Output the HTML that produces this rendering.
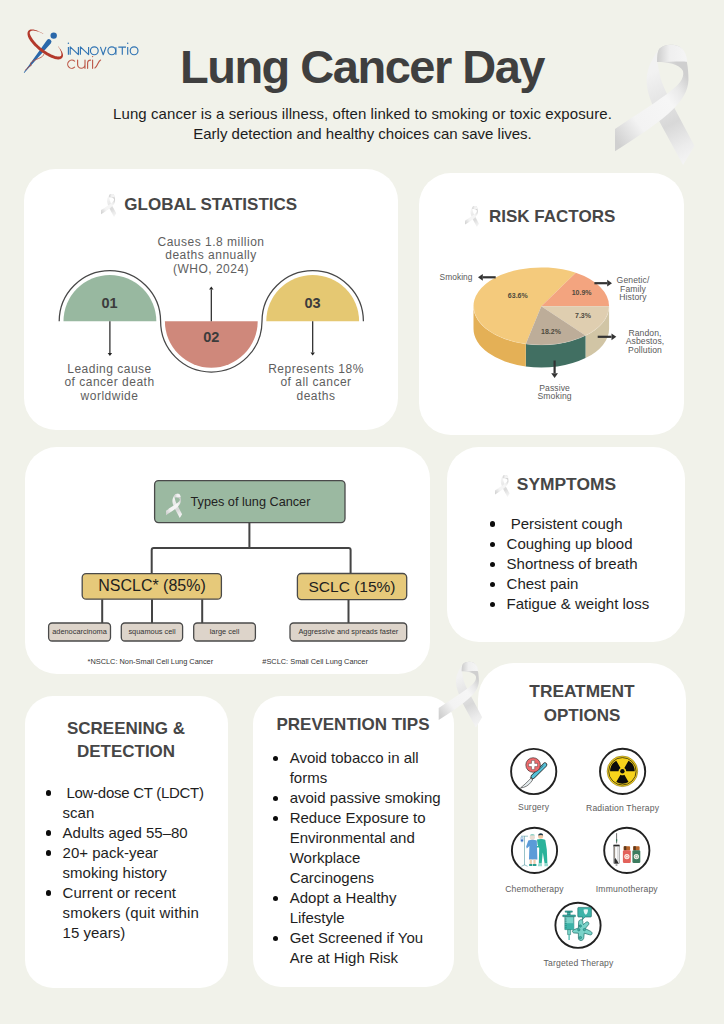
<!DOCTYPE html>
<html><head><meta charset="utf-8"><title>Lung Cancer Day</title>
<style>
html,body{margin:0;padding:0;}
body{width:724px;height:1024px;overflow:hidden;background:#f1f2ea;position:relative;font-family:"Liberation Sans",sans-serif;}
.t{position:absolute;white-space:nowrap;}
.card{position:absolute;background:#ffffff;}
svg{position:absolute;overflow:visible;}
</style></head><body>
<div class="card" style="left:24px;top:168.5px;width:374px;height:261.5px;border-radius:32px;"></div>
<div class="card" style="left:419px;top:173px;width:265px;height:262px;border-radius:32px;"></div>
<div class="card" style="left:25px;top:447px;width:405px;height:227px;border-radius:32px;"></div>
<div class="card" style="left:447px;top:447px;width:238px;height:195px;border-radius:32px;"></div>
<div class="card" style="left:25px;top:696px;width:202.5px;height:291.5px;border-radius:28px;"></div>
<div class="card" style="left:252.5px;top:696px;width:201.5px;height:291px;border-radius:28px;"></div>
<div class="card" style="left:478px;top:663px;width:207.5px;height:325px;border-radius:36px;"></div>
<svg width="724" height="1024" viewBox="0 0 724 1024" style="left:0;top:0">
<defs>
<linearGradient id="rgA" x1="0" y1="0" x2="1" y2="0">
 <stop offset="0" stop-color="#d2d2d2"/><stop offset="0.35" stop-color="#f4f4f4"/><stop offset="1" stop-color="#f7f7f7"/></linearGradient>
<linearGradient id="rgB" gradientUnits="userSpaceOnUse" x1="100" y1="720" x2="600" y2="350">
 <stop offset="0" stop-color="#d0d0d0"/><stop offset="0.3" stop-color="#f3f3f3"/><stop offset="0.7" stop-color="#f6f6f6"/><stop offset="0.85" stop-color="#e9e9e9"/><stop offset="1" stop-color="#cfcfcf"/></linearGradient>
<linearGradient id="rgC" gradientUnits="userSpaceOnUse" x1="300" y1="300" x2="600" y2="880">
 <stop offset="0" stop-color="#f2f2f2"/><stop offset="0.35" stop-color="#e2e2e2"/><stop offset="0.55" stop-color="#d8d8d8"/><stop offset="0.8" stop-color="#ececec"/><stop offset="1" stop-color="#f6f6f6"/></linearGradient>
<linearGradient id="rgD" gradientUnits="userSpaceOnUse" x1="380" y1="150" x2="570" y2="150">
 <stop offset="0" stop-color="#cfcfcf"/><stop offset="0.4" stop-color="#efefef"/><stop offset="1" stop-color="#f5f5f5"/></linearGradient>
<g id="ribbon">
 <path d="M378,140 C340,200 300,260 308,360 C315,430 350,500 385,590 L545,885 L620,760 L490,515 C450,440 405,360 392,290 C385,250 380,230 378,212 Z" fill="url(#rgC)"/>
 <path d="M100,650 L100,795 C250,700 400,600 480,520 C560,440 585,380 580,300 C578,220 560,140 520,110 C480,90 420,95 390,125 C378,140 375,170 375,212 C440,212 520,225 545,270 C555,320 520,360 440,420 C330,500 200,580 100,650 Z" fill="url(#rgB)"/>
 <path d="M390,125 C420,95 480,90 520,110 C555,130 570,170 572,210 C540,205 470,210 375,212 C375,175 378,145 390,125 Z" fill="url(#rgD)"/>
</g>
</defs>
<path d="M63.50000000000001,321.3 A46.4,46.4 0 0 1 156.3,321.3 Z" fill="#98b8a0"/><path d="M164.9,321.3 A46.4,46.4 0 0 0 257.7,321.3 Z" fill="#cf887b"/><path d="M266.3,321.3 A46.4,46.4 0 0 1 359.09999999999997,321.3 Z" fill="#e5c872"/><path d="M59.2,321.3 A50.7,50.7 0 0 1 160.60000000000002,321.3 A50.7,50.7 0 0 0 262.0,321.3 A50.7,50.7 0 0 1 363.4,321.3" fill="none" stroke="#474747" stroke-width="1.25"/>
<line x1="109.9" y1="321.3" x2="109.9" y2="353" stroke="#222" stroke-width="1.2"/><path d="M109.9,356 L107.7,353 L112.10000000000001,353 Z" fill="#222"/>
<line x1="211.3" y1="321.3" x2="211.3" y2="289.6" stroke="#222" stroke-width="1.2"/><path d="M211.3,286.6 L209.10000000000002,289.6 L213.5,289.6 Z" fill="#222"/>
<line x1="312.7" y1="321.3" x2="312.7" y2="352.5" stroke="#222" stroke-width="1.2"/><path d="M312.7,355.5 L310.5,352.5 L314.9,352.5 Z" fill="#222"/>
<path d="M609.10,306.20 A67.8,38.8 0 0 1 585.52,335.61 L585.52,358.11 A67.8,38.8 0 0 0 609.10,328.70 Z" fill="#d1c5a5"/>
<path d="M585.52,335.61 A67.8,38.8 0 0 1 525.79,343.97 L525.79,366.47 A67.8,38.8 0 0 0 585.52,358.11 Z" fill="#416f62"/>
<path d="M525.79,343.97 A67.8,38.8 0 0 1 473.50,306.20 L473.50,328.70 A67.8,38.8 0 0 0 525.79,366.47 Z" fill="#e4b056"/>
<path d="M541.3,306.2 L525.79,343.97 A67.8,38.8 0 1 1 575.80,272.80 Z" fill="#f4ca7c"/>
<path d="M541.3,306.2 L575.80,272.80 A67.8,38.8 0 0 1 609.10,306.20 Z" fill="#f3a47f"/>
<path d="M541.3,306.2 L609.10,306.20 A67.8,38.8 0 0 1 585.52,335.61 Z" fill="#dfceb0"/>
<path d="M541.3,306.2 L585.52,335.61 A67.8,38.8 0 0 1 525.79,343.97 Z" fill="#bdad99"/>
<path d="M609.10,306.20 A67.8,38.8 0 0 1 473.50,306.20" fill="none" stroke="#fff" stroke-opacity="0.25" stroke-width="0.6"/><line x1="495.7" y1="277.3" x2="482.8" y2="277.3" stroke="#333" stroke-width="2.2"/><path d="M478,277.3 L482.8,273.90000000000003 L482.8,280.7 Z" fill="#333"/>
<line x1="594.4" y1="283.2" x2="607.2" y2="283.2" stroke="#333" stroke-width="2.2"/><path d="M612,283.2 L607.2,279.8 L607.2,286.59999999999997 Z" fill="#333"/>
<line x1="597.7" y1="336.8" x2="611.5" y2="336.8" stroke="#333" stroke-width="2.2"/><path d="M616.3,336.8 L611.5,333.40000000000003 L611.5,340.2 Z" fill="#333"/>
<line x1="554.6" y1="360.5" x2="554.6" y2="373.2" stroke="#333" stroke-width="2.2"/><path d="M554.6,378 L551.2,373.2 L558.0,373.2 Z" fill="#333"/>
<rect x="154.6" y="480.6" width="190.4" height="42" rx="4" fill="#9bb9a1" stroke="#4a4a4a" stroke-width="1.3"/><path d="M249.4,522.6 V548 M151.7,573.6 V550 Q151.7,548 153.7,548 H348.6 Q350.6,548 350.6,550 V573.5" fill="none" stroke="#444" stroke-width="2"/><path d="M102.2,599.2 V623 M152,599.2 V623 M202.2,599.2 V623 M348.5,599.6 V623" fill="none" stroke="#444" stroke-width="2"/><rect x="82.2" y="573.6" width="139.2" height="25.6" rx="4" fill="#e6c97a" stroke="#4a4a4a" stroke-width="1.3"/><rect x="297.4" y="573.5" width="109.3" height="26.1" rx="4" fill="#e6c97a" stroke="#4a4a4a" stroke-width="1.3"/><rect x="48.6" y="623" width="61.9" height="18" rx="3.5" fill="#ddd4ca" stroke="#4a4a4a" stroke-width="1.3"/><rect x="121.3" y="623" width="61.3" height="18" rx="3.5" fill="#ddd4ca" stroke="#4a4a4a" stroke-width="1.3"/><rect x="193.7" y="623" width="61.7" height="18" rx="3.5" fill="#ddd4ca" stroke="#4a4a4a" stroke-width="1.3"/><rect x="290" y="623" width="116.7" height="18" rx="3.5" fill="#ddd4ca" stroke="#4a4a4a" stroke-width="1.3"/><circle cx="533.7" cy="771.5" r="22.6" fill="#fff" stroke="#222" stroke-width="1.9"/><circle cx="622.6" cy="771.4" r="22.6" fill="#fff" stroke="#222" stroke-width="1.9"/><circle cx="534.5" cy="850.4" r="22.6" fill="#fff" stroke="#222" stroke-width="1.9"/><circle cx="626.8" cy="850.4" r="22.6" fill="#fff" stroke="#222" stroke-width="1.9"/><circle cx="578" cy="925.3" r="22.6" fill="#fff" stroke="#222" stroke-width="1.9"/><g><path d="M531.6,777.2 L529.6,779.6 C526.5,782.8 523.5,785.5 520.6,787.9 C524.8,787.6 528.3,785.6 530.6,782.6 L532.6,780 Z" fill="#e4ecee" stroke="#2a2a2a" stroke-width="0.6" stroke-linejoin="round"/><path d="M530.4,777.6 L532.6,775.6 L534.4,777.6 L532.3,779.6 Z" fill="#f4f4f4" stroke="#2a2a2a" stroke-width="0.6"/><line x1="533.0" y1="776.6" x2="544.9" y2="764.8" stroke="#2a2a2a" stroke-width="4.6" stroke-linecap="round"/><line x1="533.0" y1="776.6" x2="544.9" y2="764.8" stroke="#56c1d8" stroke-width="3.3" stroke-linecap="round"/><path d="M538.8,769.9 L543.4,765.4" stroke="#2a2a2a" stroke-width="0.5"/><circle cx="533.1" cy="765.0" r="7.3" fill="#ee6a6c" stroke="#2a2a2a" stroke-width="0.6"/><path d="M531.5,760.6 h3.2 v2.8 h2.8 v3.2 h-2.8 v2.8 h-3.2 v-2.8 h-2.8 v-3.2 h2.8 Z" fill="#ffffff" stroke="#2a2a2a" stroke-width="0.4"/></g>
<circle cx="622.4" cy="771.3" r="15.3" fill="#f7d31b" stroke="#6b5a10" stroke-width="0.5"/><circle cx="622.4" cy="771.3" r="13.7" fill="none" stroke="#111" stroke-width="0.7"/><path d="M618.50,771.30 L610.10,771.30 A12.3,12.3 0 0 1 616.25,760.65 L620.45,767.92 A3.9,3.9 0 0 0 618.50,771.30 Z" fill="#0c0c0c"/><path d="M624.35,767.92 L628.55,760.65 A12.3,12.3 0 0 1 634.70,771.30 L626.30,771.30 A3.9,3.9 0 0 0 624.35,767.92 Z" fill="#0c0c0c"/><path d="M624.35,774.68 L628.55,781.95 A12.3,12.3 0 0 1 616.25,781.95 L620.45,774.68 A3.9,3.9 0 0 0 624.35,774.68 Z" fill="#0c0c0c"/><circle cx="622.4" cy="771.3" r="2.2" fill="#0c0c0c"/>
<g><path d="M524.5,836 V865.3 M521,836.2 H528 M521.5,866.3 L524.5,864.8 L527.6,866.3" stroke="#6fa9b0" stroke-width="0.7" fill="none"/><rect x="520.8" y="837" width="2.4" height="4.8" rx="0.8" fill="#cfe3f3" stroke="#5b8fc6" stroke-width="0.4"/><rect x="521" y="839.5" width="2" height="1.8" fill="#3f73c8"/><circle cx="532.3" cy="837.2" r="2.6" fill="#e9ddd3"/><path d="M529.8,835.6 C530.5,833.6 534.3,833.6 534.9,835.6 Z" fill="#8fd3c8"/><path d="M528.3,840.4 C530.5,839.4 534.6,839.4 536.8,840.4 L537.4,859.5 L529.0,859.5 L529.4,846 L526.8,848.5 L526.2,846.5 Z" fill="#5b9bd8"/><path d="M529.7,859.5 h2.2 v4.5 h-2.2 Z M533.4,859.5 h2.2 v4.5 h-2.2 Z" fill="#f0cdb0"/><path d="M529.2,864 h3.2 v2 h-3.2 Z M533,864 h3.4 v2 h-3.4 Z" fill="#2a9d8f"/><circle cx="540.6" cy="836.3" r="2.5" fill="#f0c7a3"/><path d="M538.2,835.6 C538.2,832.6 543.2,832.4 543.1,835.4 C542.2,834.7 539.6,834.7 538.2,835.6 Z" fill="#1e3b4a"/><path d="M537,839.4 C539.6,838.6 543.4,838.7 545.3,840 L546.8,849.6 L547.4,863.6 L544.6,863.6 L542.8,852.6 L541.7,863.6 L538.8,863.6 L539.2,848 L537.6,845 Z" fill="#2bb39b"/><path d="M536.9,846.8 C538.6,846.9 541.4,846.2 542.8,845.4" stroke="#2bb39b" stroke-width="1.6" fill="none"/><path d="M538.4,863.6 h3.6 v2.6 h-4.2 Z M544.4,863.6 h3.4 l0.4,2.6 h-3.8 Z" fill="#9adbd0"/></g>
<g><path d="M616.6,833.2 V843.4" stroke="#333" stroke-width="0.7"/><path d="M616.6,839.2 V841.6" stroke="#2d7a55" stroke-width="1.2"/><rect x="613.8" y="845" width="5.4" height="18.6" fill="#fbfbfb" stroke="#555" stroke-width="0.45"/><rect x="613.5" y="844.8" width="6" height="1.6" fill="#2a2a2a"/><path d="M617.9,846.5 V862" stroke="#bdbdbd" stroke-width="0.8"/><path d="M614.6,846.5 V858" stroke="#4a3a2a" stroke-width="0.6"/><path d="M614.3,858.2 L615.6,858.2 L618.4,862.8 L618.6,863.6 L614.3,863.6 Z" fill="#2b2b2b"/><path d="M615.6,864.2 h1.8 v1.6 h-1.8 Z" fill="#999"/><rect x="623.5" y="846.2" width="6.6" height="4.2" rx="0.8" fill="#b9652a"/><rect x="624.1" y="846.2" width="2.2" height="4.2" fill="#5a3a1e"/><rect x="622.9" y="850.2" width="7.9" height="12.8" rx="1.2" fill="#e3625b"/><circle cx="626.9" cy="856.6" r="2.6" fill="#fdf4ec"/><circle cx="626.9" cy="856.6" r="1.3" fill="none" stroke="#e3625b" stroke-width="0.5"/><rect x="633.0" y="846.2" width="6.6" height="4.2" rx="0.8" fill="#b9652a"/><rect x="633.6" y="846.2" width="2.2" height="4.2" fill="#5a3a1e"/><rect x="632.4" y="850.2" width="7.9" height="12.8" rx="1.2" fill="#3d7c5f"/><circle cx="636.4" cy="856.6" r="2.6" fill="#fdf4ec"/><circle cx="636.4" cy="856.6" r="1.3" fill="none" stroke="#3d7c5f" stroke-width="0.5"/></g>
<g><path d="M579.6,920.2 C581.6,918.8 583.2,920.4 582.8,922.6 L583.4,924.6 L585.8,922.4 C587.6,921 589.6,922.6 588.6,924.6 L585.2,928.6 L590.8,931.4 C593,932.6 592.2,935.4 589.8,934.8 L584.2,933.2 L583.8,937.6 C583.6,941.2 578.8,941.6 578.4,938.2 L578.4,933.2 L574.2,933 C571.8,932.6 572,930.2 574.2,929.6 L578.4,928 L578.6,923 C578.4,922 578.8,920.8 579.6,920.2 Z" fill="#7ad3c9" stroke="#176a64" stroke-width="0.7" stroke-linejoin="round"/><circle cx="580.3" cy="926" r="1.2" fill="#3db3a8" stroke="#176a64" stroke-width="0.5"/><circle cx="578.8" cy="929.8" r="1.2" fill="#3db3a8" stroke="#176a64" stroke-width="0.5"/><circle cx="584.4" cy="929.6" r="1.2" fill="#3db3a8" stroke="#176a64" stroke-width="0.5"/><circle cx="580.4" cy="937.6" r="1.2" fill="#3db3a8" stroke="#176a64" stroke-width="0.5"/><path d="M578.6,907.4 H590.6 Q591.4,907.4 591.4,908.2 V916.2 Q591.4,917 590.6,917 H585 L582.2,920 L582.6,917 H578.6 Q577.8,917 577.8,916.2 V908.2 Q577.8,907.4 578.6,907.4 Z" fill="#3db3a8" stroke="#176a64" stroke-width="0.6"/><path d="M583.6,909.6 Q585.8,908.8 588,909.6 Q588,913.6 585.8,914.8 Q583.6,913.6 583.6,909.6 Z" fill="#e6f6f4"/><path d="M565.2,910.9 H572.3 V912.2 H565.2 Z M567.4,912.2 H570.2 V915 H567.4 Z" fill="#3db3a8" stroke="#176a64" stroke-width="0.5"/><path d="M562.8,915 H575.4 V916.7 H562.8 Z" fill="#3db3a8" stroke="#176a64" stroke-width="0.5"/><path d="M564.9,916.7 H573.8 V929.6 H564.9 Z" fill="#7ad3c9" stroke="#176a64" stroke-width="0.6"/><path d="M564.9,923.2 H573.8 V929.6 H564.9 Z" fill="#3db3a8"/><path d="M564.9,919 h1.8 M564.9,921.2 h1.8 M564.9,923.4 h1.8 M564.9,925.6 h1.8 M564.9,927.8 h1.8" stroke="#176a64" stroke-width="0.5"/><path d="M567.6,929.6 H570.6 V934.6 H567.6 Z" fill="#7ad3c9" stroke="#176a64" stroke-width="0.5"/><path d="M569.1,934.6 V940" stroke="#3db3a8" stroke-width="1.2"/></g>
<path d="M47.05,40.04 L23.77,72.61 L24.23,72.99 L50.95,43.16 A2.5,2.5 0 0 0 47.05,40.04 Z" fill="#2a68aa"/><circle cx="53.7" cy="35.6" r="3.2" fill="#2a68aa"/><path d="M58.04,46.14 L58.76,47.05 L59.43,47.94 L60.08,48.78 L60.68,49.61 L61.21,50.41 L61.68,51.20 L62.08,51.97 L62.41,52.72 L62.67,53.45 L62.86,54.15 L62.97,54.85 L62.99,55.52 L62.91,56.19 L62.73,56.83 L62.42,57.44 L62.00,57.99 L61.47,58.46 L60.85,58.84 L60.16,59.14 L59.41,59.35 L58.61,59.41 L57.77,59.39 L56.90,59.31 L55.98,59.16 L55.04,58.95 L54.05,58.67 L53.04,58.34 L52.00,57.95 L50.93,57.50 L49.84,57.00 L48.73,56.45 L47.60,55.85 L46.47,55.20 L45.33,54.51 L44.18,53.78 L43.05,53.01 L41.91,52.21 L40.80,51.38 L39.69,50.51 L38.61,49.63 L37.56,48.72 L36.53,47.79 L35.54,46.86 L34.59,45.91 L33.68,44.96 L32.82,44.00 L32.01,43.05 L31.25,42.10 L30.55,41.16 L29.90,40.23 L29.32,39.31 L28.80,38.42 L28.40,37.51 L28.06,36.64 L27.80,35.79 L27.62,34.97 L27.51,34.18 L27.49,33.42 L27.56,32.70 L27.73,32.02 L27.99,31.40 L28.36,30.85 L28.81,30.38 L29.34,30.01 L29.93,29.74 L30.56,29.56 L31.23,29.46 L31.94,29.43 L32.69,29.47 L33.48,29.58 L34.31,29.75 L35.18,29.98 L36.08,30.27 L37.02,30.61 L37.99,31.02 L38.99,31.47 L40.01,31.98 L41.07,32.53 L42.15,33.09 L43.25,33.70 L43.13,33.92 L42.03,33.31 L40.96,32.75 L39.88,32.27 L38.83,31.85 L37.81,31.50 L36.82,31.20 L35.88,30.96 L34.99,30.78 L34.15,30.67 L33.37,30.61 L32.66,30.61 L32.01,30.67 L31.45,30.79 L30.97,30.95 L30.58,31.15 L30.28,31.38 L30.06,31.63 L29.90,31.90 L29.80,32.19 L29.74,32.52 L29.73,32.90 L29.77,33.34 L29.87,33.83 L30.03,34.37 L30.26,34.97 L30.55,35.62 L30.92,36.30 L31.35,37.03 L31.80,37.81 L32.32,38.62 L32.90,39.46 L33.54,40.32 L34.25,41.20 L35.00,42.09 L35.81,42.98 L36.67,43.88 L37.57,44.78 L38.50,45.66 L39.48,46.54 L40.48,47.41 L41.51,48.25 L42.56,49.07 L43.62,49.87 L44.70,50.63 L45.78,51.36 L46.86,52.05 L47.94,52.70 L49.00,53.31 L50.06,53.87 L51.09,54.38 L52.09,54.84 L53.07,55.25 L54.00,55.60 L54.90,55.90 L55.75,56.13 L56.54,56.31 L57.28,56.43 L57.94,56.50 L58.54,56.51 L59.05,56.47 L59.50,56.46 L59.88,56.42 L60.20,56.34 L60.47,56.24 L60.71,56.09 L60.93,55.90 L61.12,55.63 L61.27,55.27 L61.37,54.83 L61.42,54.31 L61.39,53.72 L61.30,53.05 L61.13,52.33 L60.88,51.56 L60.57,50.75 L60.18,49.90 L59.72,49.01 L59.19,48.10 L58.56,47.20 L57.85,46.29 Z" fill="#b3392b"/><path d="M43.8,54.2 C43,57.6 37.6,58.6 33.6,60.6 C30.2,62.4 29.6,64.6 31.4,65.2 C29,66.8 26.6,68.2 25.2,70.4" fill="none" stroke="#b94a3a" stroke-width="0.8"/><g fill="none" stroke="#3174b3" stroke-width="1.15" stroke-linejoin="round"><path d="M68.4,46.9 V54.7"/><path d="M70.2,54.7 V46.9 L78.4,54.7 V46.9"/><path d="M80.4,54.7 V46.9 L88.6,54.7 V46.9"/><ellipse cx="94.3" cy="50.8" rx="3.9" ry="3.95"/><path d="M100.4,46.9 L103.2,54.7 L106.0,46.9"/><ellipse cx="111.8" cy="50.8" rx="3.9" ry="3.95"/><path d="M115.9,47.3 V54.7"/><path d="M118.3,47.1 H126.0 M122.3,47.1 V54.7"/><path d="M127.7,46.9 V54.7"/><ellipse cx="134.1" cy="50.8" rx="3.9" ry="3.95"/></g><circle cx="68.4" cy="43.3" r="0.75" fill="#3174b3"/><circle cx="127.7" cy="43.3" r="0.75" fill="#3174b3"/><g fill="none" stroke="#bd5a4a" stroke-width="1.15" stroke-linecap="round"><path d="M74.6,61.2 A4.1,4.1 0 1 0 74.6,67.2"/><path d="M77.6,60.1 V64.6 A3.7,3.7 0 0 0 85.0,64.6 V60.1 M85.0,64.6 V68.3"/><path d="M87.6,68.3 V63.4 A3.2,3.2 0 0 1 90.6,60.1"/><path d="M92.6,60.1 V68.3"/><path d="M100.6,60.1 C99.6,60.6 98.6,62.2 97.8,63.8 C97.0,65.4 96.2,67.4 94.9,68.0"/></g><circle cx="92.6" cy="56.6" r="0.7" fill="#bd5a4a"/>
<use href="#ribbon" transform="translate(599.71,29.71) scale(0.15287)"/>
<use href="#ribbon" transform="translate(430.34,653.64) scale(0.08357)"/>
<use href="#ribbon" transform="translate(98.07,191.07) scale(0.02930)" opacity="0.9"/>
<use href="#ribbon" transform="translate(462.32,203.32) scale(0.02675)" opacity="0.9"/>
<use href="#ribbon" transform="translate(492.20,472.20) scale(0.02803)" opacity="0.9"/>
<use href="#ribbon" transform="translate(162.90,490.60) scale(0.03096)"/>
</svg>
<div class="t" style="left:62.00px;width:600px;text-align:center;top:42.71px;font-size:47px;line-height:47px;color:#3f3f3f;font-weight:bold;letter-spacing:-1.5px;">Lung Cancer Day</div>
<div class="t" style="left:62.50px;width:600px;text-align:center;top:106.00px;font-size:15px;line-height:15px;color:#1c1c1c;letter-spacing:0.08px;">Lung cancer is a serious illness, often linked to smoking or toxic exposure.</div>
<div class="t" style="left:62.50px;width:600px;text-align:center;top:126.10px;font-size:15px;line-height:15px;color:#1c1c1c;">Early detection and healthy choices can save lives.</div>
<div class="t" style="left:124.30px;top:196.41px;font-size:17px;line-height:17px;color:#464646;font-weight:bold;">GLOBAL STATISTICS</div>
<div class="t" style="left:489.00px;top:207.91px;font-size:17px;line-height:17px;color:#464646;font-weight:bold;">RISK FACTORS</div>
<div class="t" style="left:516.80px;top:475.67px;font-size:17.4px;line-height:17.4px;color:#464646;font-weight:bold;">SYMPTOMS</div>
<div class="t" style="left:-174.00px;width:600px;text-align:center;top:719.91px;font-size:17px;line-height:17px;color:#464646;font-weight:bold;">SCREENING &amp;</div>
<div class="t" style="left:-174.00px;width:600px;text-align:center;top:743.11px;font-size:17px;line-height:17px;color:#464646;font-weight:bold;">DETECTION</div>
<div class="t" style="left:53.00px;width:600px;text-align:center;top:716.11px;font-size:17px;line-height:17px;color:#464646;font-weight:bold;">PREVENTION TIPS</div>
<div class="t" style="left:282.00px;width:600px;text-align:center;top:682.96px;font-size:17.3px;line-height:17.3px;color:#464646;font-weight:bold;">TREATMENT</div>
<div class="t" style="left:282.00px;width:600px;text-align:center;top:707.31px;font-size:17px;line-height:17px;color:#464646;font-weight:bold;">OPTIONS</div>
<div class="t" style="left:-89.00px;width:600px;text-align:center;top:235.54px;font-size:12px;line-height:12px;color:#5e5e5e;letter-spacing:0.5px;">Causes 1.8 million</div>
<div class="t" style="left:-89.00px;width:600px;text-align:center;top:249.24px;font-size:12px;line-height:12px;color:#5e5e5e;letter-spacing:0.5px;">deaths annually</div>
<div class="t" style="left:-89.00px;width:600px;text-align:center;top:262.94px;font-size:12px;line-height:12px;color:#5e5e5e;letter-spacing:0.5px;">(WHO, 2024)</div>
<div class="t" style="left:-190.50px;width:600px;text-align:center;top:362.84px;font-size:12px;line-height:12px;color:#5e5e5e;letter-spacing:0.5px;">Leading cause</div>
<div class="t" style="left:-190.50px;width:600px;text-align:center;top:376.24px;font-size:12px;line-height:12px;color:#5e5e5e;letter-spacing:0.5px;">of cancer death</div>
<div class="t" style="left:-190.50px;width:600px;text-align:center;top:389.64px;font-size:12px;line-height:12px;color:#5e5e5e;letter-spacing:0.5px;">worldwide</div>
<div class="t" style="left:16.00px;width:600px;text-align:center;top:362.84px;font-size:12px;line-height:12px;color:#5e5e5e;letter-spacing:0.5px;">Represents 18%</div>
<div class="t" style="left:16.00px;width:600px;text-align:center;top:376.24px;font-size:12px;line-height:12px;color:#5e5e5e;letter-spacing:0.5px;">of all cancer</div>
<div class="t" style="left:16.00px;width:600px;text-align:center;top:389.64px;font-size:12px;line-height:12px;color:#5e5e5e;letter-spacing:0.5px;">deaths</div>
<div style="position:absolute;left:490.05px;top:521.45px;width:5.3px;height:5.3px;border-radius:50%;background:#0c0c0c"></div>
<div class="t" style="left:506.60px;top:515.90px;font-size:15px;line-height:15px;color:#1e1e1e;">&nbsp;Persistent cough</div>
<div style="position:absolute;left:490.05px;top:541.55px;width:5.3px;height:5.3px;border-radius:50%;background:#0c0c0c"></div>
<div class="t" style="left:506.60px;top:536.00px;font-size:15px;line-height:15px;color:#1e1e1e;">Coughing up blood</div>
<div style="position:absolute;left:490.05px;top:561.65px;width:5.3px;height:5.3px;border-radius:50%;background:#0c0c0c"></div>
<div class="t" style="left:506.60px;top:556.10px;font-size:15px;line-height:15px;color:#1e1e1e;">Shortness of breath</div>
<div style="position:absolute;left:490.05px;top:581.75px;width:5.3px;height:5.3px;border-radius:50%;background:#0c0c0c"></div>
<div class="t" style="left:506.60px;top:576.20px;font-size:15px;line-height:15px;color:#1e1e1e;">Chest pain</div>
<div style="position:absolute;left:490.05px;top:601.85px;width:5.3px;height:5.3px;border-radius:50%;background:#0c0c0c"></div>
<div class="t" style="left:506.60px;top:596.30px;font-size:15px;line-height:15px;color:#1e1e1e;">Fatigue &amp; weight loss</div>
<div style="position:absolute;left:46.15px;top:790.25px;width:5.3px;height:5.3px;border-radius:50%;background:#0c0c0c"></div>
<div class="t" style="left:62.60px;top:784.70px;font-size:15px;line-height:15px;color:#1e1e1e;letter-spacing:-0.28px;">&nbsp;Low-dose CT (LDCT)</div>
<div class="t" style="left:62.60px;top:804.70px;font-size:15px;line-height:15px;color:#1e1e1e;">scan</div>
<div style="position:absolute;left:46.15px;top:830.25px;width:5.3px;height:5.3px;border-radius:50%;background:#0c0c0c"></div>
<div class="t" style="left:62.60px;top:824.70px;font-size:15px;line-height:15px;color:#1e1e1e;">Adults aged 55&ndash;80</div>
<div style="position:absolute;left:46.15px;top:850.25px;width:5.3px;height:5.3px;border-radius:50%;background:#0c0c0c"></div>
<div class="t" style="left:62.60px;top:844.70px;font-size:15px;line-height:15px;color:#1e1e1e;">20+ pack-year</div>
<div class="t" style="left:62.60px;top:864.70px;font-size:15px;line-height:15px;color:#1e1e1e;">smoking history</div>
<div style="position:absolute;left:46.15px;top:890.25px;width:5.3px;height:5.3px;border-radius:50%;background:#0c0c0c"></div>
<div class="t" style="left:62.60px;top:884.70px;font-size:15px;line-height:15px;color:#1e1e1e;">Current or recent</div>
<div class="t" style="left:62.60px;top:904.70px;font-size:15px;line-height:15px;color:#1e1e1e;letter-spacing:0.2px;">smokers (quit within</div>
<div class="t" style="left:62.60px;top:924.70px;font-size:15px;line-height:15px;color:#1e1e1e;">15 years)</div>
<div style="position:absolute;left:272.85px;top:756.05px;width:5.3px;height:5.3px;border-radius:50%;background:#0c0c0c"></div>
<div class="t" style="left:289.70px;top:750.40px;font-size:15px;line-height:15px;color:#1e1e1e;">Avoid tobacco in all</div>
<div class="t" style="left:289.70px;top:770.40px;font-size:15px;line-height:15px;color:#1e1e1e;">forms</div>
<div style="position:absolute;left:272.85px;top:796.05px;width:5.3px;height:5.3px;border-radius:50%;background:#0c0c0c"></div>
<div class="t" style="left:289.70px;top:790.40px;font-size:15px;line-height:15px;color:#1e1e1e;">avoid passive smoking</div>
<div style="position:absolute;left:272.85px;top:816.05px;width:5.3px;height:5.3px;border-radius:50%;background:#0c0c0c"></div>
<div class="t" style="left:289.70px;top:810.40px;font-size:15px;line-height:15px;color:#1e1e1e;">Reduce Exposure to</div>
<div class="t" style="left:289.70px;top:830.40px;font-size:15px;line-height:15px;color:#1e1e1e;">Environmental and</div>
<div class="t" style="left:289.70px;top:850.40px;font-size:15px;line-height:15px;color:#1e1e1e;">Workplace</div>
<div class="t" style="left:289.70px;top:870.40px;font-size:15px;line-height:15px;color:#1e1e1e;">Carcinogens</div>
<div style="position:absolute;left:272.85px;top:896.05px;width:5.3px;height:5.3px;border-radius:50%;background:#0c0c0c"></div>
<div class="t" style="left:289.70px;top:890.40px;font-size:15px;line-height:15px;color:#1e1e1e;">Adopt a Healthy</div>
<div class="t" style="left:289.70px;top:910.40px;font-size:15px;line-height:15px;color:#1e1e1e;">Lifestyle</div>
<div style="position:absolute;left:272.85px;top:936.05px;width:5.3px;height:5.3px;border-radius:50%;background:#0c0c0c"></div>
<div class="t" style="left:289.70px;top:930.40px;font-size:15px;line-height:15px;color:#1e1e1e;">Get Screened if You</div>
<div class="t" style="left:289.70px;top:950.40px;font-size:15px;line-height:15px;color:#1e1e1e;">Are at High Risk</div>
<div class="t" style="left:-190.40px;width:600px;text-align:center;top:296.03px;font-size:14.5px;line-height:14.5px;color:#3c3c3c;font-weight:bold;">01</div>
<div class="t" style="left:-88.80px;width:600px;text-align:center;top:329.73px;font-size:14.5px;line-height:14.5px;color:#3c3c3c;font-weight:bold;">02</div>
<div class="t" style="left:12.60px;width:600px;text-align:center;top:295.93px;font-size:14.5px;line-height:14.5px;color:#3c3c3c;font-weight:bold;">03</div>
<div class="t" style="left:217.80px;width:600px;text-align:center;top:292.37px;font-size:7px;line-height:7px;color:#4e4a3e;font-weight:bold;">63.6%</div>
<div class="t" style="left:281.60px;width:600px;text-align:center;top:288.57px;font-size:7px;line-height:7px;color:#4e4a3e;font-weight:bold;">10.9%</div>
<div class="t" style="left:283.00px;width:600px;text-align:center;top:311.87px;font-size:7px;line-height:7px;color:#4e4a3e;font-weight:bold;">7.3%</div>
<div class="t" style="left:251.00px;width:600px;text-align:center;top:328.17px;font-size:7px;line-height:7px;color:#4e4a3e;font-weight:bold;">18.2%</div>
<div class="t" style="left:439.60px;top:273.49px;font-size:8.4px;line-height:8.4px;color:#5a5a5a;letter-spacing:0.05px;">Smoking</div>
<div class="t" style="left:333.00px;width:600px;text-align:center;top:275.92px;font-size:8.6px;line-height:8.6px;color:#5a5a5a;letter-spacing:0.1px;">Genetic/</div>
<div class="t" style="left:333.00px;width:600px;text-align:center;top:284.67px;font-size:8.6px;line-height:8.6px;color:#5a5a5a;letter-spacing:0.1px;">Family</div>
<div class="t" style="left:333.00px;width:600px;text-align:center;top:293.42px;font-size:8.6px;line-height:8.6px;color:#5a5a5a;letter-spacing:0.1px;">History</div>
<div class="t" style="left:345.00px;width:600px;text-align:center;top:328.72px;font-size:8.6px;line-height:8.6px;color:#5a5a5a;letter-spacing:0.1px;">Randon,</div>
<div class="t" style="left:345.00px;width:600px;text-align:center;top:337.47px;font-size:8.6px;line-height:8.6px;color:#5a5a5a;letter-spacing:0.1px;">Asbestos,</div>
<div class="t" style="left:345.00px;width:600px;text-align:center;top:346.22px;font-size:8.6px;line-height:8.6px;color:#5a5a5a;letter-spacing:0.1px;">Pollution</div>
<div class="t" style="left:254.60px;width:600px;text-align:center;top:383.92px;font-size:8.6px;line-height:8.6px;color:#5a5a5a;letter-spacing:0.1px;">Passive</div>
<div class="t" style="left:254.60px;width:600px;text-align:center;top:392.32px;font-size:8.6px;line-height:8.6px;color:#5a5a5a;letter-spacing:0.1px;">Smoking</div>
<div class="t" style="left:190.50px;top:495.75px;font-size:12.7px;line-height:12.7px;color:#222;">Types of lung Cancer</div>
<div class="t" style="left:-148.00px;width:600px;text-align:center;top:578.16px;font-size:16px;line-height:16px;color:#1e1e1e;">NSCLC* (85%)</div>
<div class="t" style="left:52.00px;width:600px;text-align:center;top:578.68px;font-size:15.5px;line-height:15.5px;color:#1e1e1e;">SCLC (15%)</div>
<div class="t" style="left:-220.50px;width:600px;text-align:center;top:628.14px;font-size:7.4px;line-height:7.4px;color:#333;">adenocarcinoma</div>
<div class="t" style="left:-148.00px;width:600px;text-align:center;top:628.14px;font-size:7.4px;line-height:7.4px;color:#333;">squamous cell</div>
<div class="t" style="left:-75.50px;width:600px;text-align:center;top:628.14px;font-size:7.4px;line-height:7.4px;color:#333;">large cell</div>
<div class="t" style="left:48.30px;width:600px;text-align:center;top:627.94px;font-size:7.4px;line-height:7.4px;color:#333;">Aggressive and spreads faster</div>
<div class="t" style="left:87.50px;top:657.74px;font-size:7.4px;line-height:7.4px;color:#333;">*NSCLC: Non-Small Cell Lung Cancer</div>
<div class="t" style="left:262.30px;top:657.74px;font-size:7.4px;line-height:7.4px;color:#333;">#SCLC: Small Cell Lung Cancer</div>
<div class="t" style="left:233.70px;width:600px;text-align:center;top:803.42px;font-size:8.6px;line-height:8.6px;color:#5e5e5e;letter-spacing:0.18px;">Surgery</div>
<div class="t" style="left:322.60px;width:600px;text-align:center;top:803.62px;font-size:8.6px;line-height:8.6px;color:#5e5e5e;letter-spacing:0.18px;">Radiation Therapy</div>
<div class="t" style="left:234.50px;width:600px;text-align:center;top:884.62px;font-size:8.6px;line-height:8.6px;color:#5e5e5e;letter-spacing:0.18px;">Chemotherapy</div>
<div class="t" style="left:326.80px;width:600px;text-align:center;top:884.62px;font-size:8.6px;line-height:8.6px;color:#5e5e5e;letter-spacing:0.18px;">Immunotherapy</div>
<div class="t" style="left:278.50px;width:600px;text-align:center;top:959.22px;font-size:8.6px;line-height:8.6px;color:#5e5e5e;letter-spacing:0.18px;">Targeted Therapy</div>
</body></html>
